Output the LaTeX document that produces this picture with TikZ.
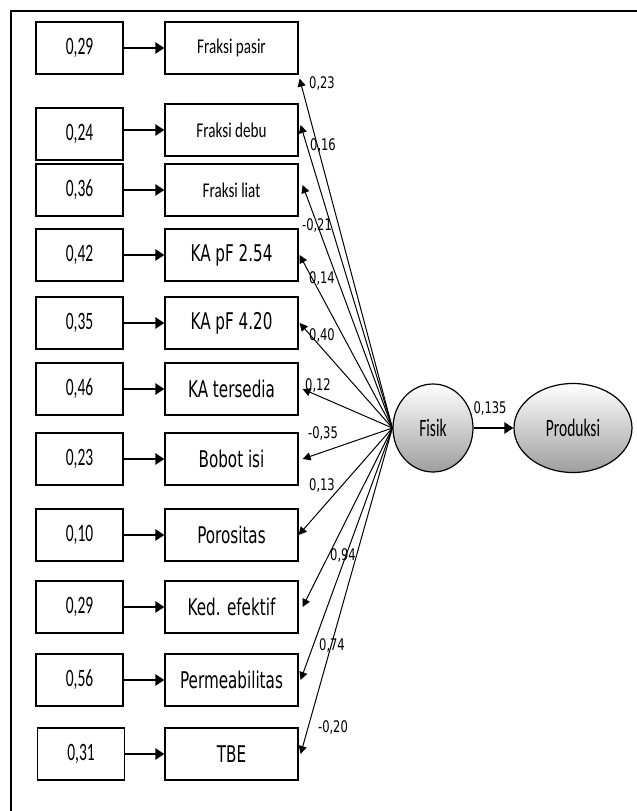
\documentclass[tikz,border=0pt]{standalone}
\usepackage{fontspec}
\usepackage{tikz}
\usetikzlibrary{arrows.meta,shapes.geometric,positioning,calc}
\newfontfamily\valfont[FakeStretch=0.62]{Carlito}
\newfontfamily\fraksifont[FakeStretch=0.72]{Carlito}
\newfontfamily\varfont[FakeStretch=0.66]{DejaVu Sans}
\newfontfamily\coeffont[FakeStretch=0.72]{DejaVu Sans}
\tikzset{
  valbox/.style={rectangle,draw,line width=1.2pt,inner sep=0pt,
    minimum width=87pt,minimum height=52pt,font=\valfont\fontsize{25}{27}\selectfont},
  varbox/.style={valbox,minimum width=133pt,font=\varfont\fontsize{23}{25}\selectfont},
  fraksibox/.style={varbox,font=\fraksifont\fontsize{21}{23}\selectfont},
  latent/.style={ellipse,draw,line width=1.2pt,inner sep=0pt,top color=white,
    bottom color=black!38,font=\valfont\fontsize{25}{27}\selectfont},
  coef/.style={inner sep=0pt,font=\coeffont\fontsize{16}{18}\selectfont},
  err/.style={line width=2.2pt,-{Triangle[length=9pt,width=11pt]}},
  load/.style={line width=1pt,-{Triangle[length=8pt,width=8pt]}}
}

\begin{document}
\begin{tikzpicture}[x=1pt,y=-1pt]
  \useasboundingbox (0,0) rectangle (637,811);
  % frame
  \draw[line width=1.5pt] (11,811) -- (11,11) -- (637,11);

  % indicators
  \node[fraksibox] (pasir) at (231.5,48) {Fraksi pasir};
  \node[fraksibox] (debu) at (231.5,130) {Fraksi debu};
  \node[fraksibox] (liat) at (231.5,190) {Fraksi liat};
  \node[varbox] (pfa) at (231.5,255) {KA pF 2.54};
  \node[varbox] (pfb) at (231.5,323) {KA pF 4.20};
  \node[varbox] (tersedia) at (231.5,389) {KA tersedia};
  \node[varbox] (bobot) at (231.5,459) {Bobot isi};
  \node[varbox] (poros) at (231.5,535) {Porositas};
  \node[varbox] (ked) at (231.5,607) {Ked. efektif};
  \node[varbox] (perm) at (231.5,680) {Permeabilitas};
  \node[varbox] (tbe) at (231.5,754) {TBE};

  % error terms
  \node[valbox] (epasir) at (79.5,48) {0,29};
  \node[valbox] (edebu) at (79.5,134) {0,24};
  \node[valbox] (eliat) at (79.5,190) {0,36};
  \node[valbox] (epfa) at (79.5,255) {0,42};
  \node[valbox] (epfb) at (79.5,323) {0,35};
  \node[valbox] (etersedia) at (79.5,389) {0,46};
  \node[valbox] (ebobot) at (79.5,459) {0,23};
  \node[valbox] (eporos) at (79.5,535) {0,10};
  \node[valbox] (eked) at (79.5,607) {0,29};
  \node[valbox] (eperm) at (79.5,680) {0,56};
  \node[valbox] (etbe) at (81,754) {0,31};

  \draw[err] (epasir.east |- pasir) -- (pasir.west);
  \draw[err] (edebu.east |- debu) -- (debu.west);
  \draw[err] (eliat.east |- liat) -- (liat.west);
  \draw[err] (epfa.east |- pfa) -- (pfa.west);
  \draw[err] (epfb.east |- pfb) -- (pfb.west);
  \draw[err] (etersedia.east |- tersedia) -- (tersedia.west);
  \draw[err] (ebobot.east |- bobot) -- (bobot.west);
  \draw[err] (eporos.east |- poros) -- (poros.west);
  \draw[err] (eked.east |- ked) -- (ked.west);
  \draw[err] (eperm.east |- perm) -- (perm.west);
  \draw[err] (etbe.east |- tbe) -- (tbe.west);

  % latent variables
  \node[latent,minimum width=80pt,minimum height=88pt] (fisik) at (433,428) {Fisik};
  \node[latent,minimum width=118pt,minimum height=89pt] (produksi) at (573,428) {Produksi};
  \draw[err] (fisik.east) -- (produksi.west);
  \node[coef] (cprod) at (490,408) {0,135};

  % loadings
  \draw[load] (fisik.west) -- ([xshift=1pt,yshift=-4pt]pasir.south east);
  \draw[load] (fisik.west) -- ([xshift=2pt,yshift=5pt]debu.east);
  \draw[load] (fisik.west) -- ([xshift=4pt,yshift=5pt]liat.east);
  \draw[load] (fisik.west) -- ([xshift=1pt]pfa.east);
  \draw[load] (fisik.west) -- ([xshift=1pt]pfb.east);
  \draw[load] (fisik.west) -- ([xshift=4pt]tersedia.east);
  \draw[load] (fisik.west) -- ([xshift=4pt]bobot.east);
  \draw[load] (fisik.west) -- (poros.east);
  \draw[load] (fisik.west) -- ([xshift=4pt]ked.east);
  \draw[load] (fisik.west) -- ([xshift=2pt]perm.east);
  \draw[load] (fisik.west) -- ([xshift=2pt]tbe.east);

  \node[coef] (cpasir) at (322,83) {0,23};
  \node[coef] (cdebu) at (323,145) {0,16};
  \node[coef] (cliat) at (317,225) {-0,21};
  \node[coef] (cpfa) at (322,278) {0,14};
  \node[coef] (cpfb) at (322,335) {0,40};
  \node[coef] (ctersedia) at (318,385) {0,12};
  \node[coef] (cbobot) at (323,433) {-0,35};
  \node[coef] (cporos) at (322,485) {0,13};
  \node[coef] (cked) at (343,555) {0,94};
  \node[coef] (cperm) at (332,645) {0,74};
  \node[coef] (ctbe) at (333,727) {-0,20};
\end{tikzpicture}
\end{document}
